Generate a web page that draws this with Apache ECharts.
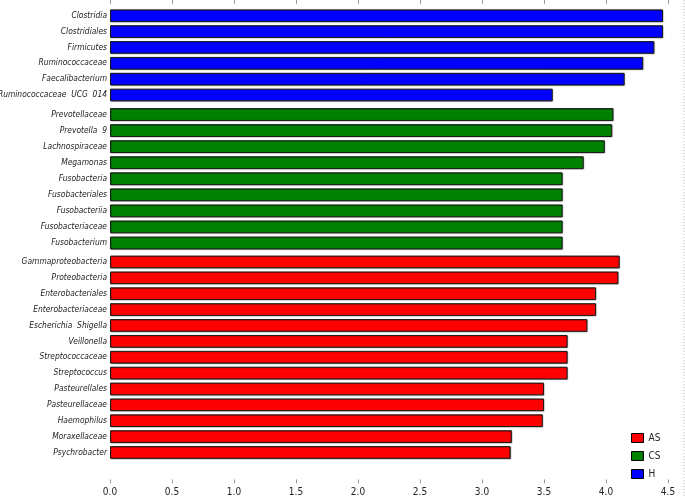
<!DOCTYPE html>
<html>
<head>
<meta charset="utf-8">
<script src="https://cdn.jsdelivr.net/npm/echarts@6/dist/echarts.min.js"></script>
<style>html,body{margin:0;padding:0;background:#fff;}#c{width:685px;height:497px;}</style>
</head>
<body>
<div id="c"></div>
<script>
var hNames = ['Clostridia','Clostridiales','Firmicutes','Ruminococcaceae','Faecalibacterium','Ruminococcaceae  UCG  014'];
var hValues = [4.46, 4.46, 4.39, 4.30, 4.15, 3.57];
var csNames = ['Prevotellaceae','Prevotella  9','Lachnospiraceae','Megamonas','Fusobacteria','Fusobacteriales','Fusobacteriia','Fusobacteriaceae','Fusobacterium'];
var csValues = [4.06, 4.05, 3.99, 3.82, 3.65, 3.65, 3.65, 3.65, 3.65];
var asNames = ['Gammaproteobacteria','Proteobacteria','Enterobacteriales','Enterobacteriaceae','Escherichia  Shigella','Veillonella','Streptococcaceae','Streptococcus','Pasteurellales','Pasteurellaceae','Haemophilus','Moraxellaceae','Psychrobacter'];
var asValues = [4.11, 4.10, 3.92, 3.92, 3.85, 3.69, 3.69, 3.69, 3.50, 3.50, 3.49, 3.24, 3.23];
var xTicks = [0, 0.5, 1.0, 1.5, 2.0, 2.5, 3.0, 3.5, 4.0, 4.5];

var FONT = '"DejaVu Sans Condensed", "DejaVu Sans", sans-serif';
var colors = {H: '#0000ff', CS: '#008000', AS: '#ff0000'};

function xAxisCfg(idx, pos, showLabels, showTicks, offset) {
  return {
    type: 'value', gridIndex: idx, position: pos, min: xTicks[0], max: xTicks[xTicks.length-1],
    interval: xTicks[1] - xTicks[0], offset: offset,
    axisLine: {show: false},
    axisTick: {show: showTicks, length: 4, lineStyle: {color: '#999'}},
    axisLabel: {show: showLabels, margin: 8, color: '#222', fontFamily: FONT, fontSize: 10,
      formatter: function (v) { return v.toFixed(1); }},
    splitLine: {show: false}
  };
}
function yAxisCfg(idx, names) {
  return {
    type: 'category', gridIndex: idx, data: names, inverse: true,
    axisLine: {show: false}, axisTick: {show: false},
    axisLabel: {margin: 3, color: '#222', fontStyle: 'italic', fontFamily: FONT, fontSize: 8.4}
  };
}
function seriesCfg(name, idx, values) {
  return {
    name: name, type: 'bar', xAxisIndex: idx, yAxisIndex: idx, data: values,
    barCategoryGap: '20%',
    itemStyle: {color: colors[name], borderColor: '#1a1a1a', borderWidth: 1,
      shadowColor: 'rgba(0,0,0,0.35)', shadowBlur: 1, shadowOffsetX: 0.5, shadowOffsetY: 0.5},
    emphasis: {disabled: true}
  };
}
function gridCfg(top, height) {
  return {left: 110, right: 17, top: top, height: height, containLabel: false, outerBoundsMode: 'none'};
}

var chart = echarts.init(document.getElementById('c'), null, {renderer: 'canvas'});
chart.setOption({
  animation: false,
  grid: [gridCfg(7.8, 95.1), gridCfg(106.5, 144.5), gridCfg(254, 206.4)],
  xAxis: [
    xAxisCfg(0, 'top', false, true, 4),
    xAxisCfg(1, 'bottom', false, false, 0),
    xAxisCfg(2, 'bottom', true, true, 19)
  ],
  yAxis: [yAxisCfg(0, hNames), yAxisCfg(1, csNames), yAxisCfg(2, asNames)],
  legend: {
    data: ['AS', 'CS', 'H'], orient: 'vertical', left: 626, top: 428,
    itemWidth: 12, itemHeight: 9, itemGap: 8,
    itemStyle: {borderColor: '#000', borderWidth: 1},
    textStyle: {fontFamily: FONT, fontSize: 10, color: '#222'},
    icon: 'rect'
  },
  series: [seriesCfg('H', 0, hValues), seriesCfg('CS', 1, csValues), seriesCfg('AS', 2, asValues)],
  graphic: [{
    type: 'line', shape: {x1: 684, y1: 0, x2: 684, y2: 497},
    style: {stroke: '#bbb', lineWidth: 1, lineDash: [1, 2]}, silent: true
  }]
});
</script>
</body>
</html>
